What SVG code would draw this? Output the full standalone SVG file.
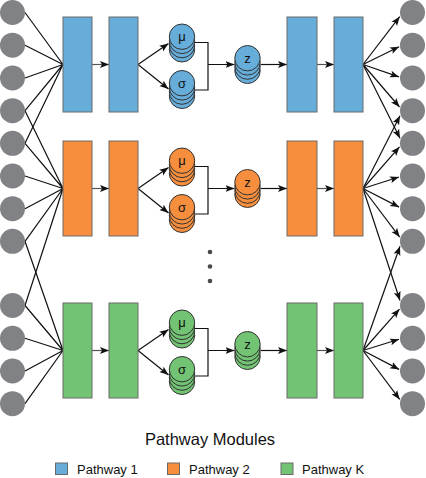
<svg xmlns="http://www.w3.org/2000/svg" xmlns:xlink="http://www.w3.org/1999/xlink" width="426" height="478" viewBox="0 0 426 478">
<style>
.io{fill:#808285;}
.rect{stroke:#6a6a6a;stroke-width:1;}
.b{fill:#67ADDA;} .o{fill:#F68E3D;} .g{fill:#72C373;}
.ln{stroke:#111;stroke-width:1.2;fill:none;}
.ar{stroke:#111;stroke-width:1.2;fill:none;marker-end:url(#ah);}
.gr{stroke:#555;stroke-width:1.2;fill:none;marker-end:url(#ah);}
.sym{font-family:"Liberation Sans",Arial,sans-serif;font-size:13px;fill:#111;text-anchor:middle;}
.lab{font-family:"Liberation Sans",Arial,sans-serif;fill:#111;}
.dot{fill:#4a4a4a;}
</style>
<defs>
<marker id="ah" markerWidth="10" markerHeight="8" refX="9" refY="4" orient="auto" markerUnits="userSpaceOnUse"><path d="M0,0.5 L9,4 L0,7.5 L2,4 Z" fill="#111"/></marker>
<g id="stack" stroke="#333" stroke-width="1">
<circle cx="0" cy="6.3" r="12.7"/><circle cx="0" cy="2.1" r="12.7"/><circle cx="0" cy="-2.1" r="12.7"/><circle cx="0" cy="-6.3" r="12.7"/>
</g>
</defs>

<g id="connectors">
<!-- left inputs -->
<g class="ln">
<path d="M25,12.5L63,64.5M25,45.2L63,64.5M25,78L63,64.5M25,110.7L63,64.5M25,143.3L63,64.5"/>
<path d="M25,110.7L63,188.5M25,143.3L63,188.5M25,176L63,188.5M25,208.7L63,188.5M25,241.3L63,188.5M25,305.5L63,188.5"/>
<path d="M25,241.3L63,350.5M25,305.5L63,350.5M25,338.3L63,350.5M25,371L63,350.5M25,403.7L63,350.5"/>
</g>
<!-- blue row -->
<path class="gr" d="M92,64.5H109"/>
<path class="ar" d="M138,64.5L168.5,43.5"/>
<path class="ar" d="M138,64.5L168.5,89"/>
<path class="ln" d="M195,42.5H208V90H195M208,64.5H226"/>
<path class="ar" d="M225,64.5H234.5"/>
<path class="ar" d="M260.5,64.5H287"/>
<path class="gr" d="M317,64.5H334"/>
<!-- orange row -->
<path class="gr" d="M92,188.5H109"/>
<path class="ar" d="M138,188.5L168.5,167.5"/>
<path class="ar" d="M138,188.5L168.5,213"/>
<path class="ln" d="M195,166.5H208V214H195M208,188.5H226"/>
<path class="ar" d="M225,188.5H234.5"/>
<path class="ar" d="M260.5,188.5H287"/>
<path class="gr" d="M317,188.5H334"/>
<!-- green row -->
<path class="gr" d="M92,350.5H109"/>
<path class="ar" d="M138,350.5L168.5,329.5"/>
<path class="ar" d="M138,350.5L168.5,375"/>
<path class="ln" d="M195,328.5H208V376H195M208,350.5H226"/>
<path class="ar" d="M225,350.5H234.5"/>
<path class="ar" d="M260.5,350.5H287"/>
<path class="gr" d="M317,350.5H334"/>
<!-- right outputs -->
<path class="ar" d="M363,64.5L399.7,16.7"/>
<path class="ar" d="M363,64.5L399.1,46.7"/>
<path class="ar" d="M363,64.5L399,76.9"/>
<path class="ar" d="M363,64.5L399.5,107"/>
<path class="ar" d="M363,64.5L400,138.3"/>
<path class="ar" d="M363,188.5L400,115.7"/>
<path class="ar" d="M363,188.5L399.5,146.9"/>
<path class="ar" d="M363,188.5L399,177"/>
<path class="ar" d="M363,188.5L399.1,207.1"/>
<path class="ar" d="M363,188.5L399.7,237.1"/>
<path class="ar" d="M363,188.5L400,300.5"/>
<path class="ar" d="M363,350.5L400,246.3"/>
<path class="ar" d="M363,350.5L399.5,309.1"/>
<path class="ar" d="M363,350.5L399,339.3"/>
<path class="ar" d="M363,350.5L399.1,369.4"/>
<path class="ar" d="M363,350.5L399.7,399.4"/>
</g>

<g id="inputs" class="io">
<circle cx="12.5" cy="12.5" r="12.5"/><circle cx="12.5" cy="45.2" r="12.5"/><circle cx="12.5" cy="78" r="12.5"/><circle cx="12.5" cy="110.7" r="12.5"/>
<circle cx="12.5" cy="143.3" r="12.5"/><circle cx="12.5" cy="176" r="12.5"/><circle cx="12.5" cy="208.7" r="12.5"/><circle cx="12.5" cy="241.3" r="12.5"/>
<circle cx="12.5" cy="305.5" r="12.5"/><circle cx="12.5" cy="338.3" r="12.5"/><circle cx="12.5" cy="371" r="12.5"/><circle cx="12.5" cy="403.7" r="12.5"/>
</g>
<g id="outputs" class="io">
<circle cx="412.5" cy="12.5" r="12.5"/><circle cx="412.5" cy="45.2" r="12.5"/><circle cx="412.5" cy="78" r="12.5"/><circle cx="412.5" cy="110.7" r="12.5"/>
<circle cx="412.5" cy="143.3" r="12.5"/><circle cx="412.5" cy="176" r="12.5"/><circle cx="412.5" cy="208.7" r="12.5"/><circle cx="412.5" cy="241.3" r="12.5"/>
<circle cx="412.5" cy="305.5" r="12.5"/><circle cx="412.5" cy="338.3" r="12.5"/><circle cx="412.5" cy="371" r="12.5"/><circle cx="412.5" cy="403.7" r="12.5"/>
</g>

<g id="pathway1">
<rect id="p1-enc1" class="rect b" x="63" y="17" width="29" height="95"/>
<rect id="p1-enc2" class="rect b" x="109" y="17" width="29" height="95"/>
<g id="p1-mu"><use href="#stack" transform="translate(182,43)" class="b"/><text class="sym" x="182" y="41.2">μ</text></g>
<g id="p1-sigma"><use href="#stack" transform="translate(182,89.5)" class="b"/><text class="sym" x="182" y="87.7">σ</text></g>
<g id="p1-z"><use href="#stack" transform="translate(247.5,64.5)" class="b"/><text class="sym" x="247.5" y="62.7">z</text></g>
<rect id="p1-dec1" class="rect b" x="287" y="17" width="30" height="95"/>
<rect id="p1-dec2" class="rect b" x="334" y="17" width="29" height="95"/>
</g>

<g id="pathway2">
<rect id="p2-enc1" class="rect o" x="63" y="141" width="29" height="95"/>
<rect id="p2-enc2" class="rect o" x="109" y="141" width="29" height="95"/>
<g id="p2-mu"><use href="#stack" transform="translate(182,167)" class="o"/><text class="sym" x="182" y="165.2">μ</text></g>
<g id="p2-sigma"><use href="#stack" transform="translate(182,213.5)" class="o"/><text class="sym" x="182" y="211.7">σ</text></g>
<g id="p2-z"><use href="#stack" transform="translate(247.5,188.5)" class="o"/><text class="sym" x="247.5" y="186.7">z</text></g>
<rect id="p2-dec1" class="rect o" x="287" y="141" width="30" height="95"/>
<rect id="p2-dec2" class="rect o" x="334" y="141" width="29" height="95"/>
</g>

<g id="ellipsis">
<circle class="dot" cx="210" cy="252" r="2.3"/><circle class="dot" cx="210" cy="266.5" r="2.3"/><circle class="dot" cx="210" cy="281" r="2.3"/>
</g>

<g id="pathwayK">
<rect id="pk-enc1" class="rect g" x="63" y="303" width="29" height="95"/>
<rect id="pk-enc2" class="rect g" x="109" y="303" width="29" height="95"/>
<g id="pk-mu"><use href="#stack" transform="translate(182,329)" class="g"/><text class="sym" x="182" y="327.2">μ</text></g>
<g id="pk-sigma"><use href="#stack" transform="translate(182,375.5)" class="g"/><text class="sym" x="182" y="373.7">σ</text></g>
<g id="pk-z"><use href="#stack" transform="translate(247.5,350.5)" class="g"/><text class="sym" x="247.5" y="348.7">z</text></g>
<rect id="pk-dec1" class="rect g" x="287" y="303" width="30" height="95"/>
<rect id="pk-dec2" class="rect g" x="334" y="303" width="29" height="95"/>
</g>

<g id="legend">
<text class="lab" x="210" y="445" font-size="16.5" text-anchor="middle">Pathway Modules</text>
<rect class="rect b" x="55.5" y="463" width="12" height="11.5"/>
<text class="lab" x="77" y="473.5" font-size="13">Pathway 1</text>
<rect class="rect o" x="167.5" y="463" width="12" height="11.5"/>
<text class="lab" x="189" y="473.5" font-size="13">Pathway 2</text>
<rect class="rect g" x="281" y="463" width="12" height="11.5"/>
<text class="lab" x="302" y="473.5" font-size="13">Pathway K</text>
</g>
</svg>
